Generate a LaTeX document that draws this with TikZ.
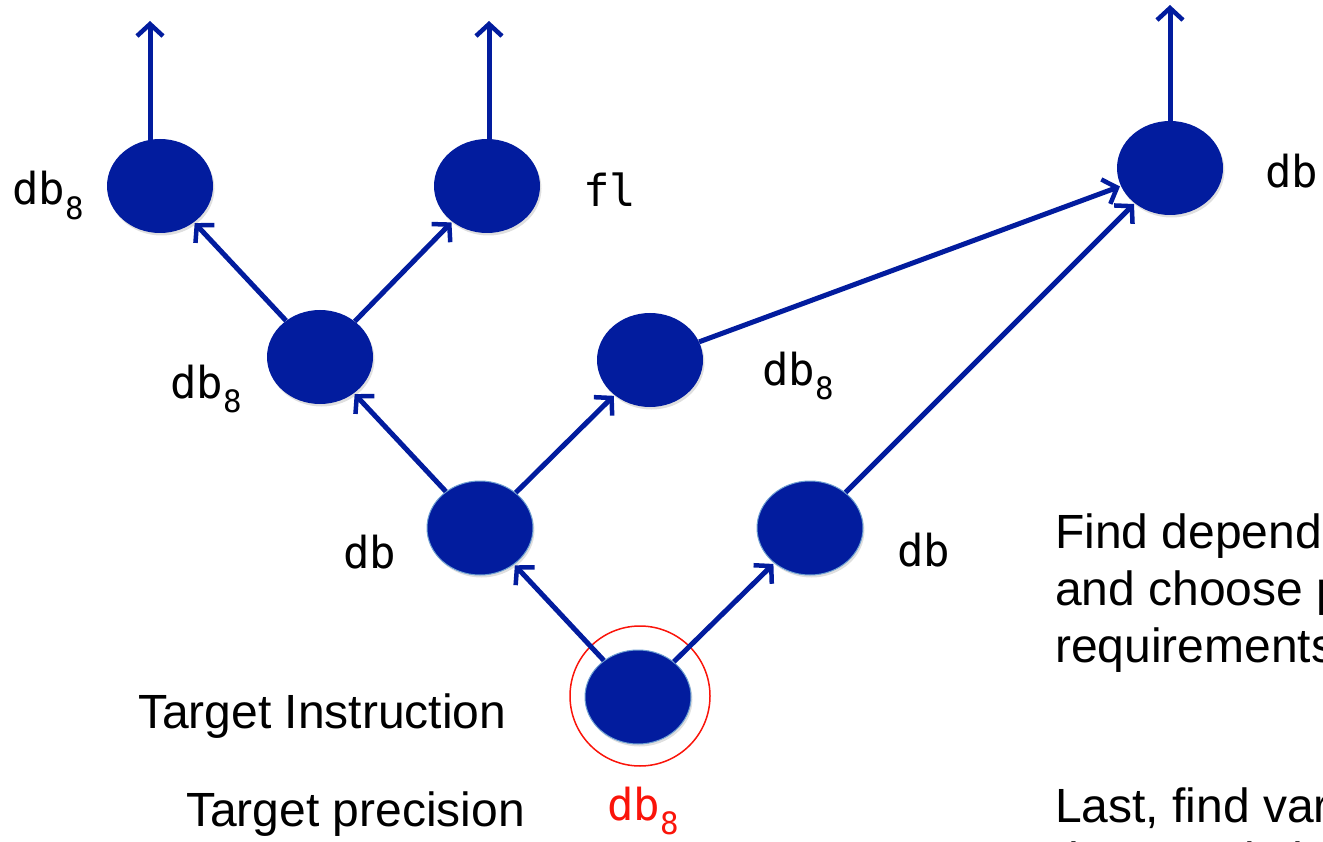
\documentclass[tikz,border=0pt]{standalone}
\usepackage{fontspec}
\setmainfont{Liberation Sans}
\newfontfamily\codefont{DejaVu Sans Mono}
\usetikzlibrary{arrows.meta,shadows,shapes.geometric}
\definecolor{nodeblue}{RGB}{2,28,158}
\definecolor{rimblue}{RGB}{110,160,210}
\definecolor{targetred}{RGB}{250,20,10}
\tikzset{
  op/.style={ellipse, fill=nodeblue, minimum width=106pt, minimum height=94pt, inner sep=0pt,
    drop shadow={shadow xshift=1.5pt, shadow yshift=-2.5pt, opacity=0.25}},
  oprim/.style={op, draw=rimblue, line width=1pt},
  flow/.style={draw=nodeblue, line width=5pt, -{Straight Barb[length=12pt,width=26pt,line width=4.5pt]}, shorten >=1pt},
  code/.style={font=\codefont\fontsize{44}{50}\selectfont, inner sep=0pt, anchor=base west},
  prose/.style={font=\fontsize{48}{57}\selectfont, inner sep=0pt, anchor=base west}
}
\begin{document}
\begin{tikzpicture}[x=1pt,y=-1pt]
\useasboundingbox (0,0) rectangle (1323,842);
\clip (0,0) rectangle (1323,842);

% operation nodes
\node[op] (a) at (160,186) {};
\node[op] (b) at (487,186) {};
\node[op] (c) at (1170,168) {};
\node[op] (d) at (320,357) {};
\node[op] (e) at (650,360) {};
\node[oprim] (f) at (480,528) {};
\node[oprim] (g) at (810,528) {};
\node[oprim] (h) at (638,697) {};

% highlight around the target instruction
\node[circle, draw=targetred, line width=1.5pt, minimum size=140pt] (ring) at (640,696) {};

% outgoing results
\coordinate (aout) at (150,20);
\coordinate (bout) at (489,20);
\coordinate (cout) at (1170,4);
\draw[flow] (150,140) -- (aout);
\draw[flow] (489,140) -- (bout);
\draw[flow] (c.north) -- (cout);

% dependence edges
\draw[flow] (d) -- (a);
\draw[flow] (d) -- (b);
\draw[flow] (f) -- (d);
\draw[flow] (f) -- (e);
\draw[flow] (h) -- (f);
\draw[flow] (h) -- (g);
\draw[flow] (e) -- (c);
\draw[flow] (g) -- (c);

% precision labels
\node[code] (la) at (12,205) {db\textsubscript{8}};
\node[code] (lb) at (583,207) {fl};
\node[code] (lc) at (1265,188) {db};
\node[code] (ld) at (170,398) {db\textsubscript{8}};
\node[code] (le) at (762,385) {db\textsubscript{8}};
\node[code] (lf) at (343,568) {db};
\node[code] (lg) at (897,566) {db};
\node[code, text=targetred] (lh) at (607,820) {db\textsubscript{8}};

% captions
\node[prose] (ti) at (138,728) {Target Instruction};
\node[prose] (tp) at (186,826) {Target precision};
\node[prose] (t1a) at (1055,548) {Find dependencies};
\node[prose] (t1b) at (1055,605) {and choose precision};
\node[prose] (t1c) at (1055,662) {requirements};
\node[prose] (t2a) at (1055,822) {Last, find variables};
\node[prose] (t2b) at (1055,876) {that need changes};
\end{tikzpicture}
\end{document}
